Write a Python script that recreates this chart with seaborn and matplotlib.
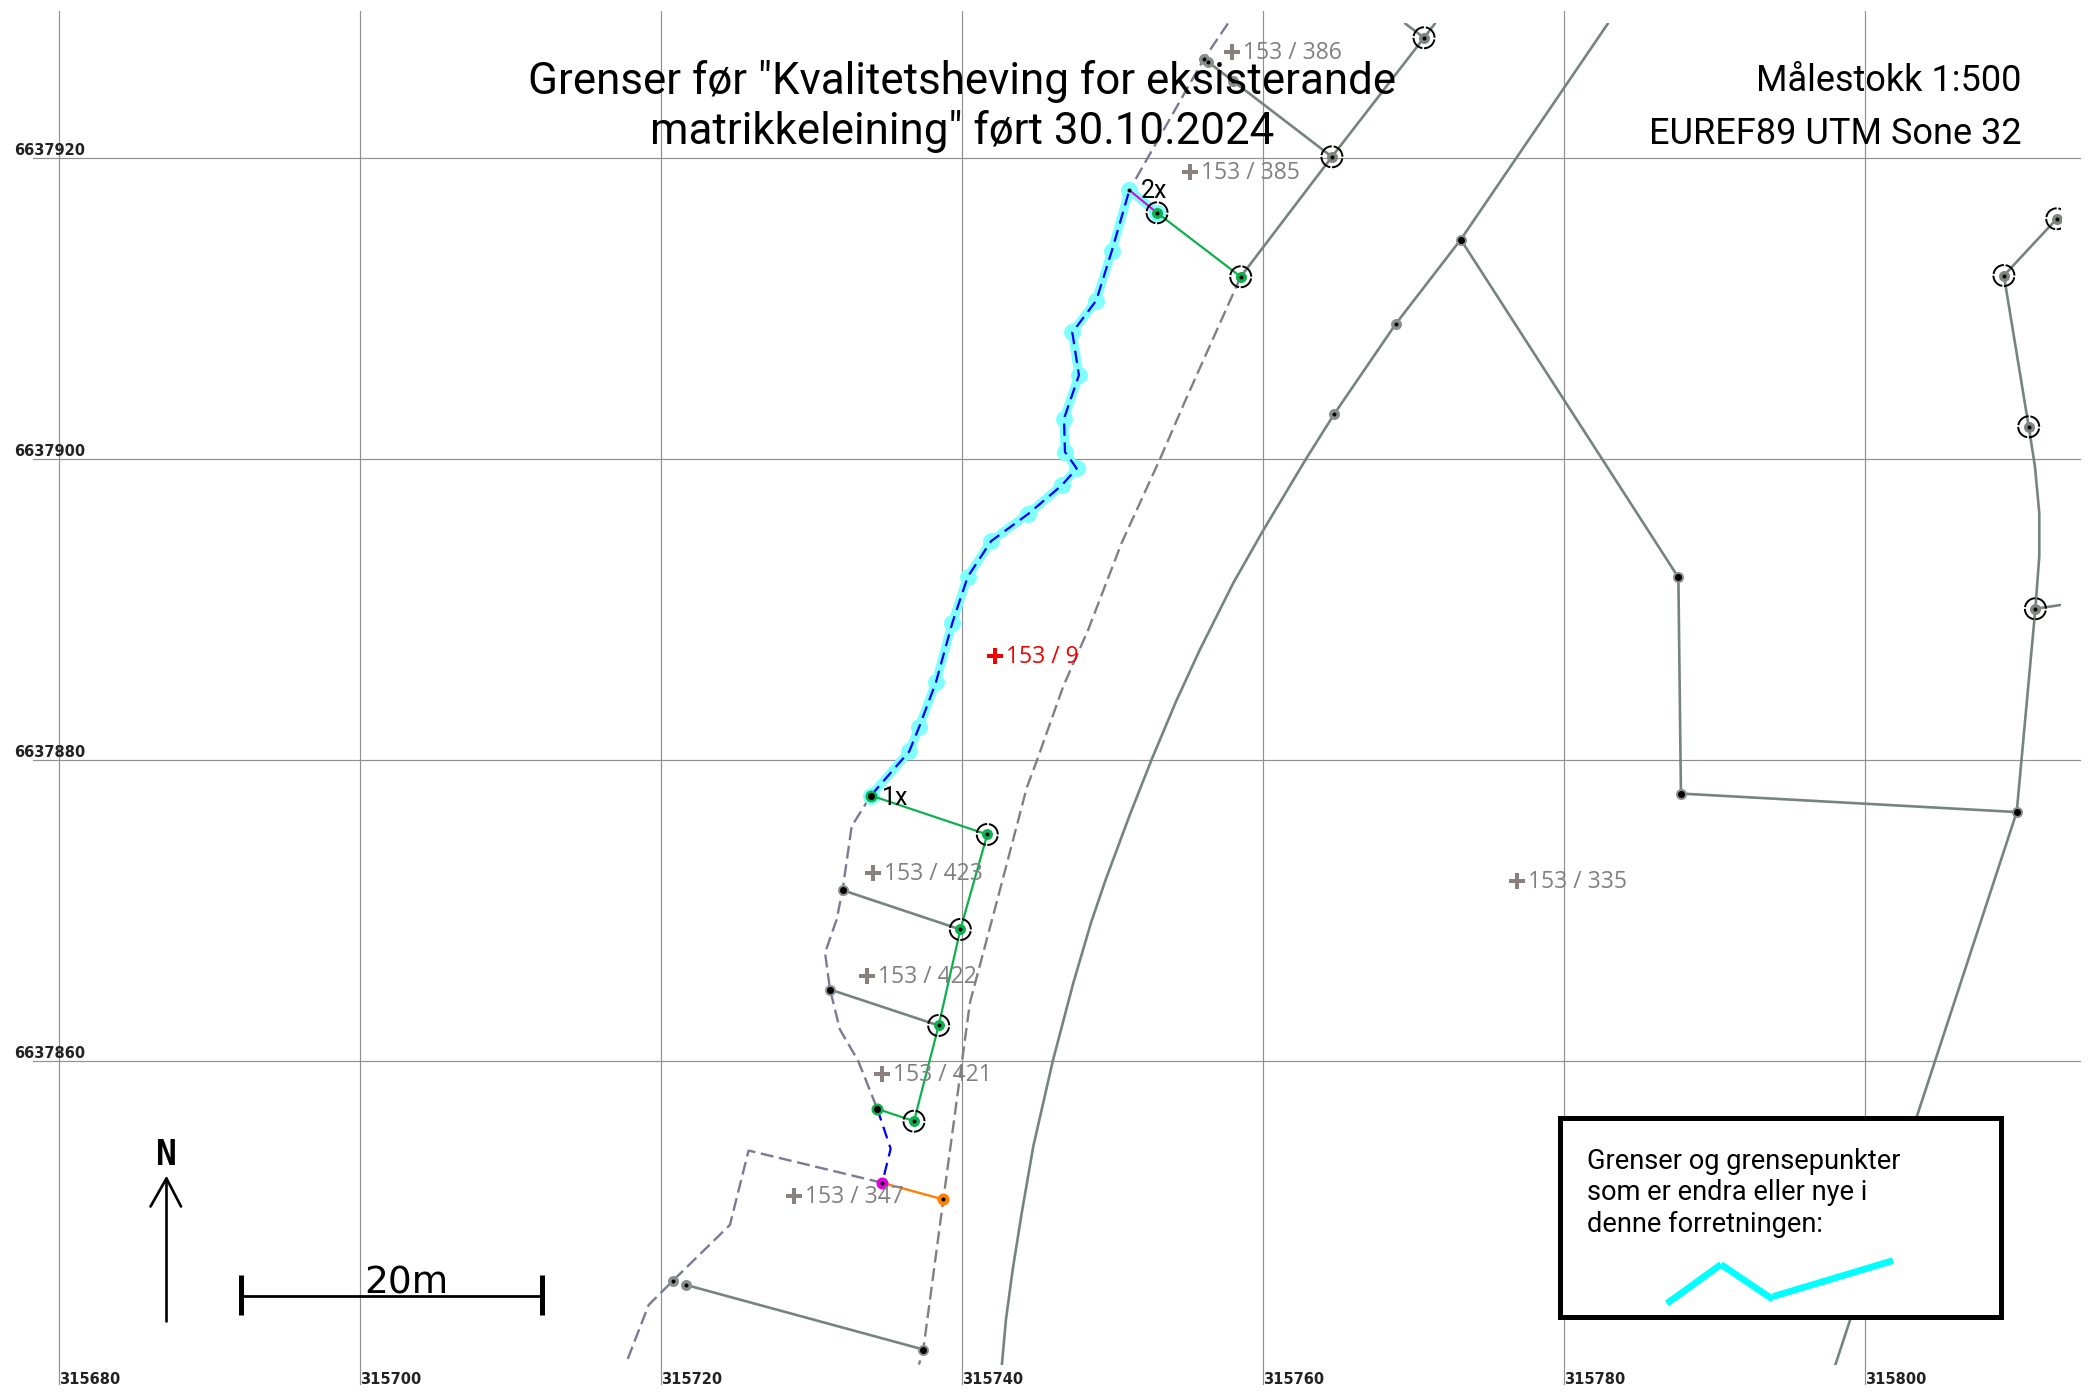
import matplotlib
matplotlib.use('Agg')
import matplotlib.pyplot as plt
from matplotlib.patches import Rectangle
import seaborn as sns

# Grid ticks (EUREF89 UTM 32)
east_ticks = [315680, 315700, 315720, 315740, 315760, 315780, 315800]
north_ticks = [6637860, 6637880, 6637900, 6637920]

# New boundary, cyan highlight with blue dashes
new_e = [315733.95, 315736.50, 315737.16, 315738.27, 315739.36, 315740.38, 315741.93, 315744.41,
         315746.62, 315747.62, 315746.84, 315746.78, 315747.77, 315747.33, 315748.92, 315749.95, 315751.12]
new_n = [6637877.64, 6637880.58, 6637882.21, 6637885.17, 6637889.12, 6637892.17, 6637894.54, 6637896.36,
         6637898.24, 6637899.37, 6637900.48, 6637902.69, 6637905.57, 6637908.41, 6637910.53, 6637913.81, 6637917.86]
top_link_e = [315751.12, 315752.96]
top_link_n = [6637917.86, 6637916.36]

# Short blue piece down to the magenta point
blue_e = [315734.37, 315735.26, 315734.70]
blue_n = [6637856.82, 6637854.17, 6637851.91]

# Green lines
green_top_e = [315752.96, 315758.52]
green_top_n = [6637916.36, 6637912.11]
green_mid_e = [315733.95, 315741.68, 315739.89, 315738.45, 315736.81, 315734.37]
green_mid_n = [6637877.64, 6637875.05, 6637868.74, 6637862.36, 6637856.00, 6637856.82]

# Orange line
orange_e = [315734.70, 315738.76]
orange_n = [6637851.91, 6637850.80]

# Dashed, purple-grey
purple_top_e = [315757.67, 315756.08, 315751.12]
purple_top_n = [6637928.94, 6637926.59, 6637917.86]
purple_left_e = [315733.95, 315732.67, 315732.07, 315731.67, 315730.90, 315731.23, 315731.89, 315733.11, 315734.37]
purple_left_n = [6637877.64, 6637875.60, 6637871.40, 6637869.40, 6637867.19, 6637864.75, 6637862.09, 6637859.99, 6637856.82]
purple_low_e = [315734.70, 315725.82, 315724.58, 315720.78, 315719.18, 315717.67]
purple_low_n = [6637851.91, 6637854.05, 6637849.11, 6637845.39, 6637843.79, 6637839.90]

# Dashed, grey road edge
road_dash_e = [315758.52, 315754.82, 315753.16, 315750.61, 315748.39, 315746.73, 315744.96, 315744.30,
               315742.53, 315740.53, 315738.76, 315737.43, 315737.14]
road_dash_n = [6637912.11, 6637903.84, 6637900.01, 6637894.43, 6637888.67, 6637884.90, 6637879.92, 6637878.15,
               6637871.40, 6637863.89, 6637850.80, 6637840.83, 6637839.83]

# Solid grey lines
road_e = [315782.92, 315773.14, 315768.84, 315764.74, 315762.86, 315759.98, 315758.03, 315755.81, 315754.23, 315752.60,
          315751.16, 315749.55, 315748.57, 315747.40, 315746.03, 315744.74, 315743.97, 315743.37, 315742.92, 315742.64]
road_n = [6637928.94, 6637914.58, 6637909.00, 6637903.00, 6637900.01, 6637895.20, 6637891.77, 6637887.34, 6637883.91, 6637880.03,
          6637876.38, 6637872.06, 6637869.18, 6637865.20, 6637859.99, 6637854.34, 6637849.91, 6637846.15, 6637842.82, 6637839.72]
branch_e = [315773.14, 315787.60, 315787.77, 315810.08, 315798.00]
branch_n = [6637914.58, 6637892.13, 6637877.77, 6637876.54, 6637839.72]
right_e = [315812.74, 315809.23, 315810.88, 315811.29, 315811.58, 315811.58, 315811.32, 315810.08]
right_n = [6637915.96, 6637912.19, 6637902.14, 6637899.52, 6637896.42, 6637893.54, 6637890.05, 6637876.54]
stub_e = [315811.32, 315813.00]
stub_n = [6637890.05, 6637890.30]
upper_e = [315758.52, 315764.58, 315770.70, 315771.43]
upper_n = [6637912.11, 6637920.08, 6637927.99, 6637928.94]
upper2_e = [315756.37, 315764.58]
upper2_n = [6637926.37, 6637920.08]
upper3_e = [315769.44, 315770.70]
upper3_n = [6637928.94, 6637927.99]
tie1_e = [315732.07, 315739.89]
tie1_n = [6637871.35, 6637868.74]
tie2_e = [315731.23, 315738.45]
tie2_n = [6637864.75, 6637862.36]
tie3_e = [315721.66, 315737.43]
tie3_n = [6637845.12, 6637840.83]

# Point groups
ring_grey_e = [315764.58, 315770.70, 315809.23, 315810.88, 315811.32, 315812.74]
ring_grey_n = [6637920.08, 6637927.99, 6637912.19, 6637902.14, 6637890.05, 6637915.96]
ring_green_e = [315752.96, 315758.52, 315741.68, 315739.89, 315738.45, 315736.81]
ring_green_n = [6637916.36, 6637912.11, 6637875.05, 6637868.74, 6637862.36, 6637856.00]
black_e = [315732.07, 315731.23, 315737.43, 315773.14, 315787.60, 315787.77, 315810.08]
black_n = [6637871.35, 6637864.75, 6637840.83, 6637914.58, 6637892.13, 6637877.77, 6637876.54]
small_e = [315768.84, 315764.74, 315721.66, 315720.78, 315756.37, 315756.08, 315758.00]
small_n = [6637909.00, 6637903.00, 6637845.12, 6637845.39, 6637926.37, 6637926.59, 6637925.10]

# Parcel labels
parcel_names = ['153 / 386', '153 / 385', '153 / 423', '153 / 422', '153 / 421', '153 / 347', '153 / 335']
parcel_e = [315757.96, 315755.13, 315734.07, 315733.72, 315734.69, 315728.85, 315776.90]
parcel_n = [6637927.05, 6637919.10, 6637872.48, 6637865.66, 6637859.12, 6637851.06, 6637871.96]
red_name = '153 / 9'
red_e = [315742.21]
red_n = [6637886.90]

# Legend sample, scale bar, north arrow
sample_e = [[315786.84, 315790.43], [315790.43, 315793.89], [315793.89, 315801.86]]
sample_n = [[6637843.89, 6637846.48], [6637846.48, 6637844.15], [6637844.35, 6637846.74]]
scale_e = [315692.09, 315712.09]
scale_n = [6637844.40, 6637844.40]

sns.set_theme(style='white')
plt.rcParams['font.family'] = ['Roboto', 'DejaVu Sans']

PX = 15.05  # pixels per metre
fig = plt.figure(figsize=(20.89, 13.98), dpi=100)
ax = fig.add_axes([0, 0, 1, 1])
left = 315680 - 59 / PX
top = 6637920 + 158 / PX
ax.set_xlim(left, left + 2089 / PX)
ax.set_ylim(top - 1398 / PX, top)
sns.despine(ax=ax, left=True, bottom=True)

# Windows for the grid and for the map content
grid_clip = Rectangle((315678.28, 6637838.5), 136.1, 91.3, transform=ax.transData)
map_clip = Rectangle((315680, 6637839.83), 133.0, 89.11, transform=ax.transData)

ax.set_xticks(east_ticks)
ax.set_yticks(north_ticks)
ax.set_xticklabels([str(v) for v in east_ticks], ha='left', fontsize=10.5, fontweight='bold',
                   family='DejaVu Sans', color='#222222')
ax.set_yticklabels([str(v) for v in north_ticks], ha='left', va='bottom', fontsize=10.5, fontweight='bold',
                   family='DejaVu Sans', color='#222222')
ax.tick_params(axis='x', length=0, pad=-19)
ax.tick_params(axis='y', length=0, pad=-10.2)
ax.grid(True, color='#909090', linewidth=0.85)
ax.set_axisbelow(True)
for g in ax.get_xgridlines() + ax.get_ygridlines():
    g.set_clip_path(grid_clip)


def line(e, n, color, lw, ls='-', z=3):
    sns.lineplot(x=e, y=n, sort=False, estimator=None, color=color, linewidth=lw, linestyle=ls,
                 legend=False, ax=ax, zorder=z)
    ax.lines[-1].set_clip_path(map_clip)


def dots(e, n, color, px, z=4):
    sns.scatterplot(x=e, y=n, color=color, s=(px * 0.72) ** 2, linewidth=0, legend=False, ax=ax, zorder=z)
    ax.collections[-1].set_clip_path(map_clip)


GREY = '#75857e'
PURPLE = '#7a7a96'
GREEN = '#0db14b'
HALO = '#80ffff'
long_dash = (0, (5.5, 2.4))

for e, n in [(road_e, road_n), (branch_e, branch_n), (right_e, right_n), (stub_e, stub_n),
             (upper_e, upper_n), (upper2_e, upper2_n), (upper3_e, upper3_n),
             (tie1_e, tie1_n), (tie2_e, tie2_n), (tie3_e, tie3_n)]:
    line(e, n, GREY, 1.9)

line(road_dash_e, road_dash_n, '#808080', 1.7, long_dash)
line(purple_top_e, purple_top_n, PURPLE, 1.7, long_dash)
line(purple_left_e, purple_left_n, PURPLE, 1.7, long_dash)
line(purple_low_e, purple_low_n, PURPLE, 1.7, long_dash)

# Highlighted boundary
line(new_e + top_link_e, new_n + top_link_n, HALO, 6.5, z=3.2)
dots(new_e + top_link_e[1:], new_n + top_link_n[1:], HALO, 17, z=3.2)
line(new_e, new_n, '#0000ff', 1.6, (0, (5.5, 3)), z=3.5)
line(top_link_e, top_link_n, '#e000e0', 1.5, z=3.5)
line(blue_e, blue_n, '#0000ff', 1.6, (0, (5.5, 3)), z=3.5)
line(green_top_e, green_top_n, GREEN, 1.6, z=3.5)
line(green_mid_e, green_mid_n, GREEN, 1.6, z=3.5)
line(orange_e, orange_n, '#ff8000', 1.7, z=3.5)

# Point symbols
dots(ring_grey_e, ring_grey_n, '#808580', 11)
dots(ring_green_e, ring_green_n, GREEN, 11)
dots(black_e + small_e, black_n + small_n, '#8a8f8c', 11)
dots(green_mid_e[:1] + green_mid_e[-1:], green_mid_n[:1] + green_mid_n[-1:], GREEN, 12)
dots(orange_e[:1], orange_n[:1], '#e000e0', 12)
dots(orange_e[1:], orange_n[1:], '#ff8000', 12)
dots(black_e + green_mid_e[:1] + green_mid_e[-1:], black_n + green_mid_n[:1] + green_mid_n[-1:], 'black', 7, z=5)
dots(ring_grey_e + ring_green_e + small_e + new_e[-1:] + orange_e,
     ring_grey_n + ring_green_n + small_n + new_n[-1:] + orange_n, 'black', 4, z=5)
sns.scatterplot(x=ring_grey_e + ring_green_e, y=ring_grey_n + ring_green_n, s=(21 * 0.72) ** 2,
                legend=False, ax=ax, zorder=5)
rings = ax.collections[-1]
rings.set_facecolor('none')
rings.set_edgecolor('black')
rings.set_linewidth(1.4)
rings.set_linestyle((0, (7.6, 0.9)))
rings.set_clip_path(map_clip)

# Parcel numbers
sns.scatterplot(x=parcel_e, y=parcel_n, marker='+', s=132, color='#8a8080', linewidth=2.9,
                legend=False, ax=ax, zorder=6)
sns.scatterplot(x=red_e, y=red_n, marker='+', s=132, color='#f00000', linewidth=2.9,
                legend=False, ax=ax, zorder=6)
for name, e, n in zip(parcel_names, parcel_e, parcel_n):
    ax.text(e + 0.72, n - 0.08, name, fontsize=16.5, color='#808080', va='center', family='Open Sans', zorder=6)
ax.text(red_e[0] + 0.72, red_n[0] - 0.08, red_name, fontsize=16.5, color='#f00000', va='center',
        family='Open Sans', zorder=6)
ax.text(315734.65, 6637877.5, '1x', fontsize=18, color='black', va='center', zorder=7)
ax.text(315751.9, 6637917.8, '2x', fontsize=18, color='black', va='center', zorder=7)

# Titles
ax.text(315740, 6637923.4, 'Grenser før "Kvalitetsheving for eksisterande\nmatrikkeleining" ført 30.10.2024',
        ha='center', va='center', fontsize=31.6, color='black', linespacing=1.2, zorder=8)
ax.text(315810.4, 6637925.1, 'Målestokk 1:500', ha='right', va='center', fontsize=26, color='black', zorder=8)
ax.text(315810.4, 6637921.6, 'EUREF89 UTM Sone 32', ha='right', va='center', fontsize=26, color='black', zorder=8)

# Legend box
ax.add_patch(Rectangle((315779.73, 6637842.98), 29.3, 13.25, facecolor='white', edgecolor='black',
                       linewidth=3.6, zorder=9))
ax.text(315781.53, 6637854.2, 'Grenser og grensepunkter\nsom er endra eller nye i\ndenne forretningen:',
        ha='left', va='top', fontsize=19.6, linespacing=1.2, color='black', zorder=10)
for e, n in zip(sample_e, sample_n):
    sns.lineplot(x=e, y=n, sort=False, estimator=None, color='#00ffff', linewidth=4.8, legend=False,
                 solid_capstyle='butt', ax=ax, zorder=10)

# Scale bar
sns.lineplot(x=scale_e, y=scale_n, color='black', linewidth=2, legend=False, ax=ax, zorder=8)
for x0 in scale_e:
    ax.plot([x0, x0], [6637843.1, 6637845.8], color='black', linewidth=3.6, solid_capstyle='butt', zorder=8)
ax.text(315703.07, 6637844.0, '20m', ha='center', va='bottom', fontsize=27, family='DejaVu Sans',
        color='black', zorder=8)

# North arrow
ax.plot([315687.14, 315687.14], [6637842.7, 6637852.2], color='black', linewidth=1.9, zorder=8)
ax.plot([315686.08, 315687.14, 315688.11], [6637850.33, 6637852.2, 6637850.33], color='black', linewidth=1.9, zorder=8)
ax.text(315687.14, 6637852.65, 'N', ha='center', va='bottom', fontsize=25, fontweight='bold',
        family='DejaVu Sans Mono', color='black', zorder=8)

fig.savefig('out.png', dpi=100)
